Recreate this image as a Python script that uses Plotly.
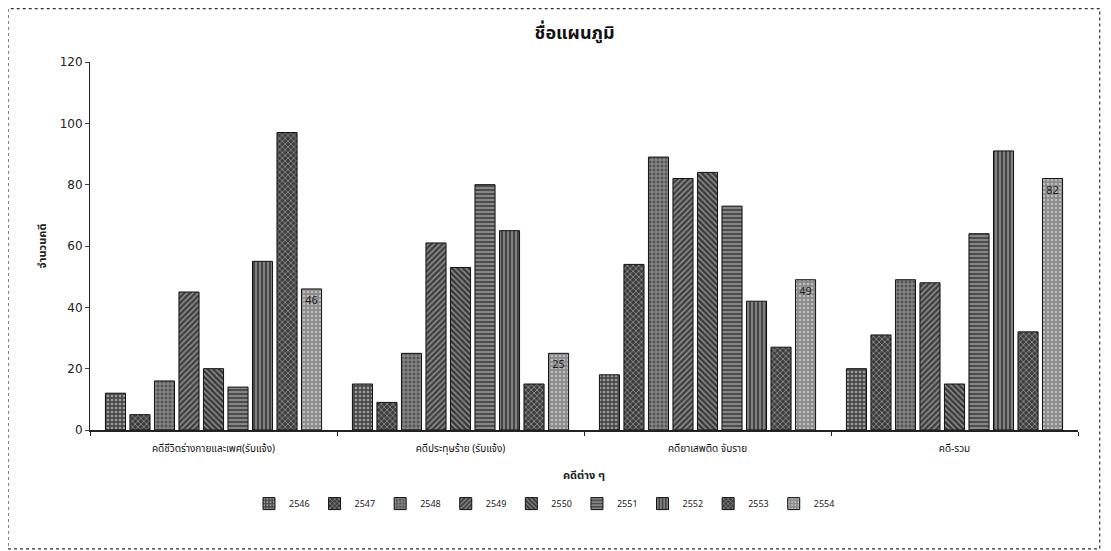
import plotly.graph_objects as go

categories = ["คดีชีวิตร่างกายและเพศ(รับแจ้ง)", "คดีประทุษร้าย (รับแจ้ง)", "คดียาเสพติด จับราย", "คดี-รวม"]
years = ["2546", "2547", "2548", "2549", "2550", "2551", "2552", "2553", "2554"]
v2546 = [12, 15, 18, 20]
v2547 = [5, 9, 54, 31]
v2548 = [16, 25, 89, 49]
v2549 = [45, 61, 82, 48]
v2550 = [20, 53, 84, 15]
v2551 = [14, 80, 73, 64]
v2552 = [55, 65, 42, 91]
v2553 = [97, 15, 27, 32]
v2554 = [46, 25, 49, 82]
series = [v2546, v2547, v2548, v2549, v2550, v2551, v2552, v2553, v2554]

bg = ["#4a4a4a", "#3c3c3c", "#555555", "#404040", "#3a3a3a", "#4d4d4d", "#454545", "#3e3e3e", "#8a8a8a"]
shapes = [".", "x", "+", "/", "\\", "-", "|", "x", "."]

FONT = "Noto Sans Thai, Noto Sans, Tahoma, sans-serif"

fig = go.Figure()
for i, (yr, vals) in enumerate(zip(years, series)):
    last = i == len(years) - 1
    fig.add_trace(go.Bar(
        name=yr, x=categories, y=vals,
        marker=dict(color=bg[i], line=dict(color="#111111", width=1),
                    pattern=dict(shape=shapes[i], fgcolor="#f0f0f0", size=4, solidity=0.35)),
        text=[str(v) for v in vals] if last else None,
        textposition="inside" if last else None,
        insidetextanchor="end",
        textfont=dict(size=11, color="#222222"),
    ))

fig.update_layout(
    width=1111, height=551,
    margin=dict(l=82, r=41, t=54, b=129),
    paper_bgcolor="white", plot_bgcolor="white",
    font=dict(family=FONT, color="#222222", size=11),
    barmode="group", bargap=0.107, bargroupgap=0.18,
    title=dict(text="<b>ชื่อแผนภูมิ</b>", x=0.51, xanchor="center", y=0.955, yanchor="middle",
               font=dict(size=18, color="#111111")),
    showlegend=True,
    legend=dict(orientation="h", x=0.46, xanchor="center", y=-0.2, yanchor="middle",
                font=dict(size=9), traceorder="normal", itemwidth=30),
    xaxis=dict(title=dict(text="<b>คดีต่าง ๆ</b>", font=dict(size=11), standoff=16),
               showline=True, linecolor="#222222", linewidth=1.5,
               ticks="outside", tickson="boundaries", ticklen=4, tickcolor="#222222",
               ticklabelstandoff=8,
               showgrid=False, tickfont=dict(size=10, color="#111111")),
    yaxis=dict(title=dict(text="<b>จำนวนคดี</b>", font=dict(size=11), standoff=10),
               range=[0, 120], dtick=20, showline=True, linecolor="#222222", linewidth=1,
               ticks="outside", ticklen=4, showgrid=False, zeroline=False,
               tickfont=dict(size=12, family="DejaVu Sans")),
)

fig.add_shape(type="rect", xref="paper", yref="paper",
              x0=-0.083, x1=1.022, y0=-0.323, y1=1.145,
              line=dict(color="#333333", width=1.2, dash="dot"))

fig.write_html("out.html")
